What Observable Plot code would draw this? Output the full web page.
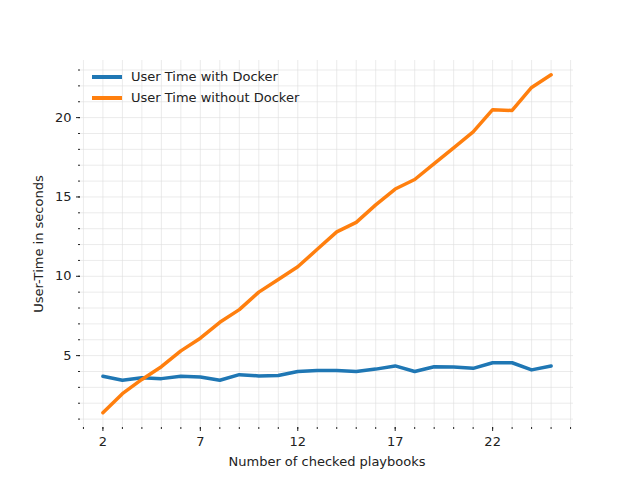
<!DOCTYPE html>
<html>
<head>
<script src="https://cdn.jsdelivr.net/npm/d3@7"></script>
<script src="https://cdn.jsdelivr.net/npm/@observablehq/plot@0.6"></script>
<style>
  body { margin: 0; font-family: "DejaVu Sans", sans-serif; }
  #wrap { position: relative; width: 640px; height: 480px; }
  #legend { position: absolute; left: 92px; top: 66px; font-size: 13px; color: #222; }
  #legend div { display: flex; align-items: center; height: 21px; }
  #legend span.sw { display: inline-block; width: 30px; height: 4px; margin-right: 9px; }
</style>
</head>
<body>
<div id="wrap"><div id="chart"></div>
<div id="legend">
  <div><span class="sw" style="background:#1f77b4"></span>User Time with Docker</div>
  <div><span class="sw" style="background:#ff7f0e"></span>User Time without Docker</div>
</div></div>
<script>
const playbooks = d3.range(2, 26)
const withDocker = [3.7, 3.45, 3.6, 3.55, 3.7, 3.65, 3.45, 3.8, 3.72, 3.75, 4.0, 4.07, 4.07, 4.0, 4.15, 4.35, 4.0, 4.3, 4.28, 4.2, 4.55, 4.55, 4.1, 4.35]
const withoutDocker = [1.4, 2.6, 3.5, 4.3, 5.3, 6.1, 7.1, 7.9, 9.0, 9.8, 10.6, 11.7, 12.8, 13.4, 14.5, 15.5, 16.1, 17.1, 18.1, 19.1, 20.5, 20.45, 21.9, 22.7]

const data = [
  ...playbooks.map((x, i) => ({x, y: withDocker[i], s: "User Time with Docker"})),
  ...playbooks.map((x, i) => ({x, y: withoutDocker[i], s: "User Time without Docker"}))
]

let chart = Plot.plot({
  width: 640, height: 480,
  marginLeft: 80, marginRight: 67, marginTop: 60, marginBottom: 53,
  style: {fontFamily: "DejaVu Sans", fontSize: "13px", color: "#222"},
  x: {domain: [0.85, 26.15]},
  y: {domain: [0.47, 23.6]},
  color: {domain: ["User Time with Docker", "User Time without Docker"], range: ["#1f77b4", "#ff7f0e"]},
  marks: [
    Plot.gridX(d3.range(1, 27), {stroke: "#ddd", strokeOpacity: 0.6}),
    Plot.gridY(d3.range(1, 24), {stroke: "#ddd", strokeOpacity: 0.6}),
    Plot.axisY(d3.range(1, 24), {tickSize: 2, text: null, label: null}),
    Plot.axisX(d3.range(1, 27), {tickSize: 2, text: null, label: null}),
    Plot.axisX({ticks: [2, 7, 12, 17, 22], tickSize: 4, label: "Number of checked playbooks", labelAnchor: "center", labelArrow: "none", labelOffset: 38}),
    Plot.axisY({ticks: [5, 10, 15, 20], tickSize: 4, label: "User-Time in seconds", labelAnchor: "center", labelArrow: "none", labelOffset: 47}),
    Plot.line(data, {x: "x", y: "y", stroke: "s", strokeWidth: 3.5})
  ]
})
d3.select('#chart').append(() => chart)
</script>
</body>
</html>
